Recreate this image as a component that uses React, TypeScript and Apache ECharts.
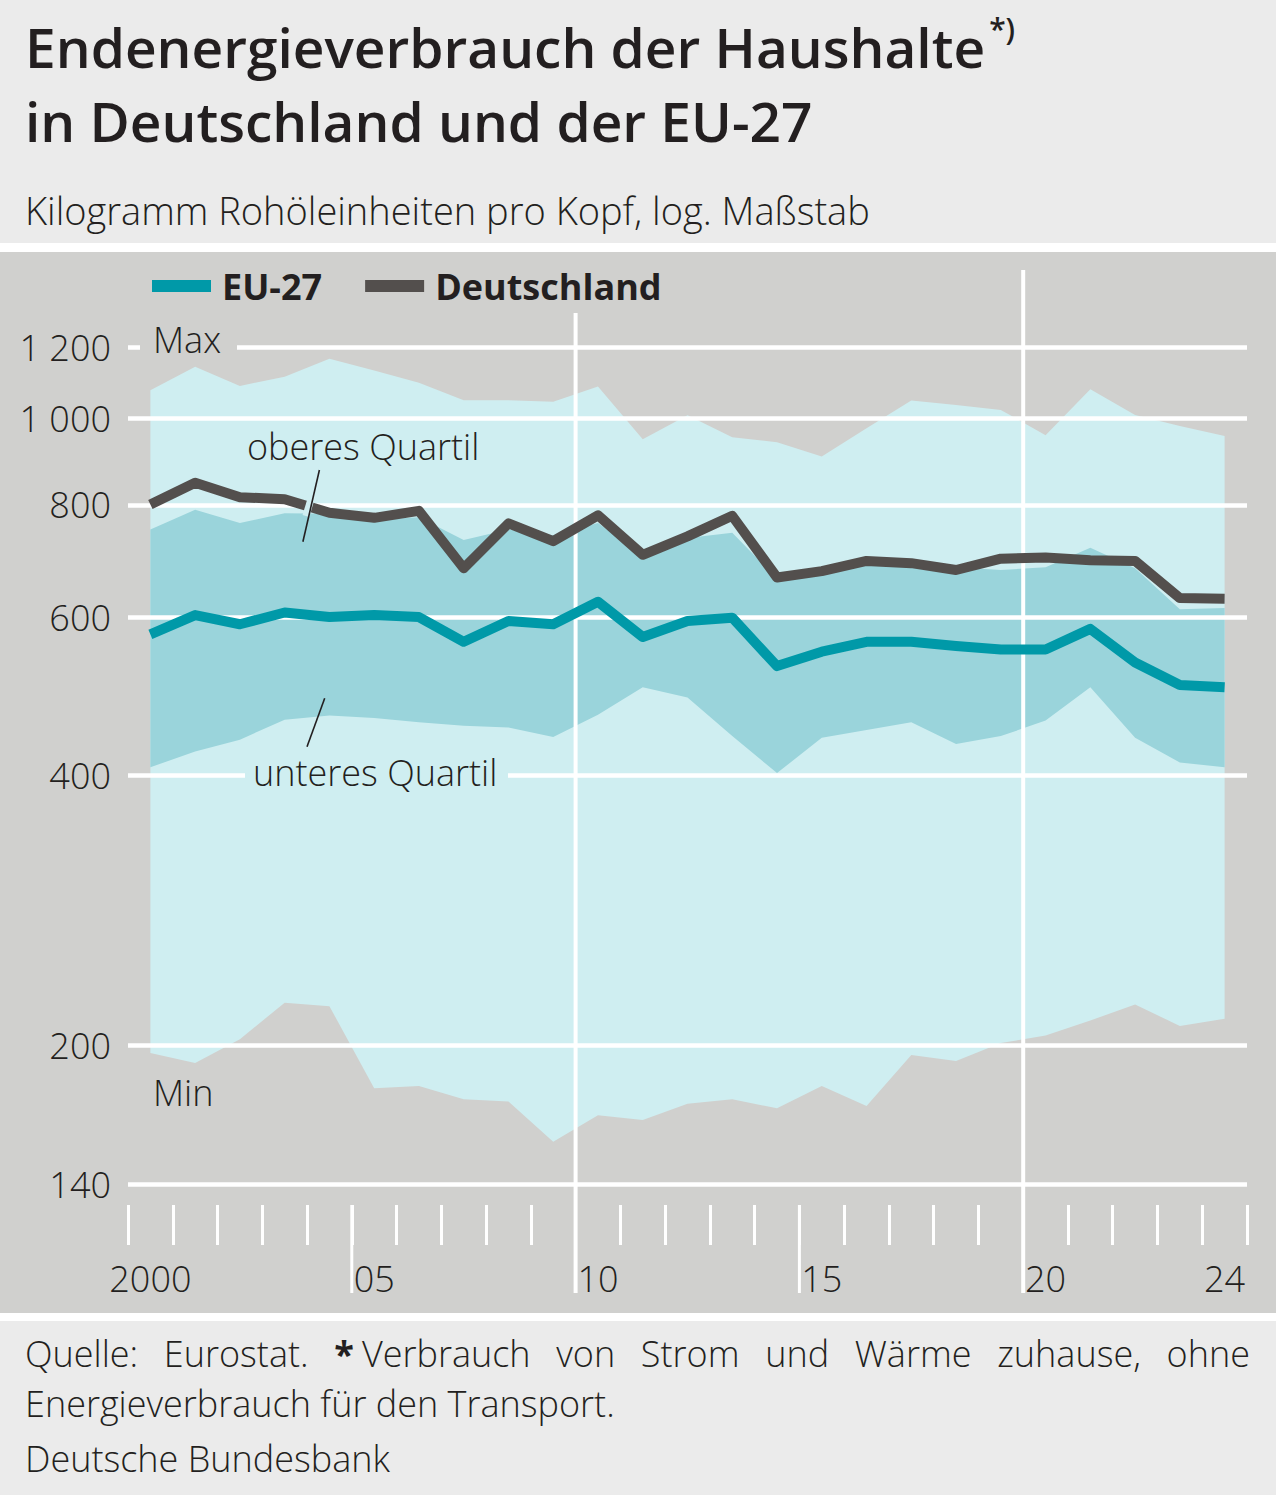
import React, { useEffect, useRef } from 'react';
import * as echarts from 'echarts';

// Jahre 2000 bis 2024
const years = [
  '2000', '2001', '2002', '2003', '2004', '2005', '2006', '2007', '2008', '2009',
  '2010', '2011', '2012', '2013', '2014', '2015', '2016', '2017', '2018', '2019',
  '2020', '2021', '2022', '2023', '2024',
];

// kg RÖE pro Kopf
const maxValues = [1074, 1141, 1086, 1112, 1164, 1130, 1095, 1047, 1047, 1043, 1084, 947, 1007, 952, 940, 906, 974, 1046, 1034, 1021, 957, 1077, 1008, 980, 955];
const upperQuartile = [751, 790, 764, 783, 782, 770, 775, 731, 751, 740, 764, 702, 735, 745, 662, 672, 690, 693, 682, 677, 682, 717, 680, 612, 614];
const lowerQuartile = [408, 425, 438, 461, 466, 463, 458, 454, 452, 441, 467, 501, 488, 442, 402, 440, 449, 458, 433, 442, 460, 501, 440, 413, 408];
const minValues = [196, 191, 203, 223, 221, 179, 180, 174, 173, 156, 167, 165, 172, 174, 170, 180, 171, 195, 192, 201, 205, 213, 222, 210, 214];
const eu27 = [574, 603, 589, 607, 600, 603, 600, 563, 594, 589, 624, 570, 594, 599, 529, 549, 563, 563, 557, 552, 552, 582, 534, 504, 501];
const deutschland = [801, 847, 816, 812, 784, 774, 788, 680, 763, 729, 779, 704, 738, 778, 664, 675, 693, 689, 677, 697, 699, 694, 693, 630, 629];

const yTicks = [140, 200, 400, 600, 800, 1000, 1200];
const yTickLabels = ['140', '200', '400', '600', '800', '1 000', '1 200'];
const xLabelIndexes = [0, 5, 10, 15, 20, 24];

const FONT = '"Open Sans", "Noto Sans", sans-serif';
const TEXT = '#231f20';
const BG = '#ebebeb';
const PANEL = '#d0d0ce';
const LIGHT_BAND = '#cfeef1';
const DARK_BAND = '#9ad4db';
const TEAL = '#0099a8';
const DARK = '#534f4d';

const LIGHT_36 = `300 36px ${FONT}`;

const measure = (text: string, font: string) => {
  const ctx = document.createElement('canvas').getContext('2d');
  if (!ctx) return text.length * 18;
  ctx.font = font;
  return ctx.measureText(text).width;
};

const text = (text: string, x: number, y: number, font: string, z = 20) => ({
  type: 'text',
  x,
  y,
  z,
  silent: true,
  style: { text, font, fill: TEXT, align: 'left', verticalAlign: 'middle' },
});

const line = (x1: number, y1: number, x2: number, y2: number, color: string, width: number, z = 5) => ({
  type: 'line',
  z,
  silent: true,
  shape: { x1, y1, x2, y2 },
  style: { stroke: color, lineWidth: width },
});

const rect = (x: number, y: number, width: number, height: number, fill: string, z = 0) => ({
  type: 'rect',
  z,
  silent: true,
  shape: { x, y, width, height },
  style: { fill },
});

const App: React.FC = () => {
  const chartRef = useRef<HTMLDivElement>(null);

  useEffect(() => {
    document.body.style.margin = '0';
    if (!chartRef.current) return;
    const chart = echarts.init(chartRef.current, undefined, { renderer: 'svg' });

    const bandBase = {
      type: 'line',
      symbol: 'none',
      silent: true,
      lineStyle: { width: 0, opacity: 0 },
    };

    chart.setOption({
      animation: false,
      backgroundColor: BG,
      grid: { left: 128, right: 29, top: 347, bottom: 311 },
      legend: {
        data: ['EU-27', 'Deutschland'],
        left: 147,
        top: 263,
        icon: 'rect',
        itemWidth: 59,
        itemHeight: 12,
        itemGap: 43,
        selectedMode: false,
        textStyle: {
          fontFamily: FONT,
          fontSize: 36,
          fontWeight: 'bold',
          color: TEXT,
          padding: [0, 0, 0, 6],
        },
      },
      xAxis: {
        type: 'category',
        data: years,
        boundaryGap: true,
        offset: 21,
        axisLine: { show: false },
        axisTick: { show: true, interval: 0, length: 40, lineStyle: { color: '#ffffff', width: 3 } },
        axisLabel: {
          interval: (i: number) => xLabelIndexes.includes(i),
          formatter: (v: string, i: number) => (i === 0 ? v : v.slice(2)),
          fontFamily: FONT,
          fontSize: 36,
          fontWeight: 300,
          color: TEXT,
          margin: 55,
        },
        splitLine: { show: false },
      },
      yAxis: {
        type: 'log',
        logBase: 10,
        min: 140,
        max: 1200,
        axisLine: { show: false },
        axisTick: { show: false },
        axisLabel: { show: false },
        splitLine: { show: false },
      },
      series: [
        {
          ...bandBase,
          name: 'Min',
          stack: 'outer',
          data: minValues,
          z: 2,
          markLine: {
            silent: true,
            symbol: ['none', 'none'],
            z: 5,
            lineStyle: { color: '#ffffff', width: 4.5, type: 'solid' },
            label: {
              show: true,
              position: 'start',
              distance: 17,
              fontFamily: FONT,
              fontSize: 36,
              fontWeight: 300,
              color: TEXT,
              formatter: (p: any) => yTickLabels[yTicks.indexOf(p.value)],
            },
            data: yTicks.map((v) => ({ yAxis: v })),
          },
        },
        {
          ...bandBase,
          name: 'Max',
          stack: 'outer',
          data: maxValues.map((v, i) => v - minValues[i]),
          areaStyle: { color: LIGHT_BAND, opacity: 1 },
          z: 2,
        },
        {
          ...bandBase,
          name: 'unteres Quartil',
          stack: 'inner',
          data: lowerQuartile,
          z: 3,
        },
        {
          ...bandBase,
          name: 'oberes Quartil',
          stack: 'inner',
          data: upperQuartile.map((v, i) => v - lowerQuartile[i]),
          areaStyle: { color: DARK_BAND, opacity: 1 },
          z: 3,
        },
        {
          name: 'EU-27',
          type: 'line',
          data: eu27,
          symbol: 'none',
          z: 10,
          itemStyle: { color: TEAL },
          lineStyle: { color: TEAL, width: 10, join: 'round' },
        },
        {
          name: 'Deutschland',
          type: 'line',
          data: deutschland,
          symbol: 'none',
          z: 11,
          itemStyle: { color: DARK },
          lineStyle: { color: DARK, width: 10, join: 'round' },
        },
      ],
    });

    // Positionen der Jahresgrenzen aus der Kategorieachse
    const c0 = chart.convertToPixel({ xAxisIndex: 0 }, years[0]) as number;
    const c1 = chart.convertToPixel({ xAxisIndex: 0 }, years[1]) as number;
    const band = c1 - c0;
    const boundary = (k: number) => c0 - band / 2 + k * band;
    const yPix = (v: number) => chart.convertToPixel({ yAxisIndex: 0 }, v) as number;
    const tickTop = yPix(140) + 21;

    // Fußnote, erste Zeile im Blocksatz
    const words = ['Quelle:', 'Eurostat.', '*', 'Verbrauch', 'von', 'Strom', 'und', 'Wärme', 'zuhause,', 'ohne'];
    const boldFont = `bold 36px ${FONT}`;
    const widths = words.map((w) => measure(w, w === '*' ? boldFont : LIGHT_36));
    const starGap = 8;
    const total = widths.reduce((a, b) => a + b, 0);
    const gap = (1250 - 25 - total - starGap) / (words.length - 2);
    let cx = 25;
    const footWords = words.map((w, i) => {
      const el = text(w, cx, 1353, w === '*' ? boldFont : LIGHT_36);
      cx += widths[i] + (w === '*' ? starGap : gap);
      return el;
    });

    const titleFont = `600 55px ${FONT}`;
    const title1 = 'Endenergieverbrauch der Haushalte';
    const titleWidth = measure(title1, titleFont);

    const yMax = yPix(1200);
    const y400 = yPix(400);

    chart.setOption({
      graphic: {
        elements: [
          rect(0, 243, 1276, 9, '#ffffff', 0),
          rect(0, 252, 1276, 1061, PANEL, 0),
          rect(0, 1313, 1276, 8, '#ffffff', 0),
          text(title1, 25, 46, titleFont),
          text('*)', 25 + titleWidth + 4, 28, `600 30px ${FONT}`),
          text('in Deutschland und der EU-27', 25, 120, titleFont),
          text('Kilogramm Rohöleinheiten pro Kopf, log. Maßstab', 25, 210, `300 38px ${FONT}`),
          ...footWords,
          text('Energieverbrauch für den Transport.', 25, 1403, LIGHT_36),
          text('Deutsche Bundesbank', 25, 1458, LIGHT_36),
          // senkrechte Linien bei 2010 und 2020, lange Striche bei 2005 und 2015
          line(boundary(10), 313, boundary(10), 1293, '#ffffff', 4),
          line(boundary(20), 270, boundary(20), 1293, '#ffffff', 4),
          line(boundary(5), tickTop, boundary(5), 1293, '#ffffff', 3),
          line(boundary(15), tickTop, boundary(15), 1293, '#ffffff', 3),
          // Beschriftungen im Diagramm
          rect(140, yMax - 4, 97, 8, PANEL, 15),
          text('Max', 153, yMax - 8, LIGHT_36),
          text('Min', 153, 1092, LIGHT_36),
          text('oberes Quartil', 247, 446, LIGHT_36),
          rect(245, y400 - 4, 263, 8, LIGHT_BAND, 15),
          text('unteres Quartil', 253, 772, LIGHT_36),
          line(311.6, 497, 305.9, 516, LIGHT_BAND, 7, 18),
          line(319.4, 470, 302.9, 541.7, TEXT, 1.6, 21),
          line(324.7, 698.3, 307, 746.7, TEXT, 1.6, 21),
        ],
      },
    });

    const handleResize = () => chart.resize();
    window.addEventListener('resize', handleResize);
    return () => {
      window.removeEventListener('resize', handleResize);
      chart.dispose();
    };
  }, []);

  return <div ref={chartRef} style={{ width: '1276px', height: '1495px' }} />;
};

export default App;
